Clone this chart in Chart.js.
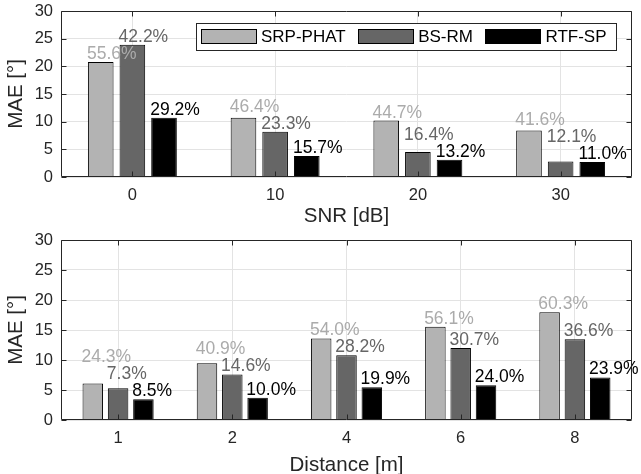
<!DOCTYPE html>
<html>
<head>
<meta charset="utf-8">
<script src="https://cdn.jsdelivr.net/npm/chart.js@4.4.1/dist/chart.umd.min.js"></script>
<style>
  html, body { margin: 0; background: #fff; overflow: hidden; }
  canvas { display: block; }
</style>
</head>
<body>
<canvas id="snrChart" width="641" height="230"></canvas>
<canvas id="distChart" width="641" height="250"></canvas>
<script>
const methods = ['SRP-PHAT', 'BS-RM', 'RTF-SP'];
const barColors = ['#b3b3b3', '#666666', '#000000'];
const labelColors = ['#ababab', '#666666', '#000000'];

// top panel: MAE vs SNR
const snrLabels = ['0', '10', '20', '30'];
const snrSrp = [20.8, 10.7, 10.2, 8.4];
const snrBs = [23.9, 8.2, 4.5, 2.8];
const snrRtf = [10.7, 3.8, 3.1, 2.7];
const snrSrpPct = [55.6, 46.4, 44.7, 41.6];
const snrBsPct = [42.2, 23.3, 16.4, 12.1];
const snrRtfPct = [29.2, 15.7, 13.2, 11.0];

// bottom panel: MAE vs distance
const distLabels = ['1', '2', '4', '6', '8'];
const distSrp = [6.1, 9.45, 13.6, 15.55, 17.95];
const distBs = [5.3, 7.6, 10.8, 12.0, 13.45];
const distRtf = [3.45, 3.7, 5.45, 5.8, 7.1];
const distSrpPct = [24.3, 40.9, 54.0, 56.1, 60.3];
const distBsPct = [7.3, 14.6, 28.2, 30.7, 36.6];
const distRtfPct = [8.5, 10.0, 19.9, 24.0, 23.9];

const yTicks = [0, 5, 10, 15, 20, 25, 30];

const FAMILY = '"Liberation Sans", Arial, sans-serif';
const AXIS = '#262626';

// percentage text above each bar, pushed up when it would overlap the label to its right
const pctLabels = {
  id: 'pctLabels',
  afterDatasetsDraw(chart, args, opts) {
    const ctx = chart.ctx;
    ctx.save();
    ctx.font = '17.5px ' + FAMILY;
    ctx.textAlign = 'left';
    ctx.textBaseline = 'alphabetic';
    for (let i = 0; i < chart.data.labels.length; i++) {
      let above = null;
      for (let d = chart.data.datasets.length - 1; d >= 0; d--) {
        const bar = chart.getDatasetMeta(d).data[i];
        let y = bar.y - 3;
        if (above !== null && y > above - 17 && y - 17 < above) y = above - 17;
        above = y;
        ctx.fillStyle = labelColors[d];
        ctx.fillText(opts.pct[d][i].toFixed(1) + '%', bar.x - bar.width / 2 - 1, y);
      }
    }
    ctx.restore();
  }
};

// matlab style box with inward ticks
const axesBox = {
  id: 'axesBox',
  afterDatasetsDraw(chart) {
    const ctx = chart.ctx;
    const a = chart.chartArea;
    const x = chart.scales.x, y = chart.scales.y;
    const L = Math.round(a.left) + 0.5, R = Math.round(a.right) - 0.5;
    const T = Math.round(a.top) + 0.5, B = Math.round(a.bottom) - 0.5;
    ctx.save();
    ctx.strokeStyle = AXIS;
    ctx.lineWidth = 1;
    ctx.beginPath();
    x.ticks.forEach((t, i) => {
      const px = Math.round(x.getPixelForTick(i)) + 0.5;
      ctx.moveTo(px, B); ctx.lineTo(px, B - 5);
      ctx.moveTo(px, T); ctx.lineTo(px, T + 5);
    });
    y.ticks.forEach((t, i) => {
      const py = Math.round(y.getPixelForTick(i)) + 0.5;
      ctx.moveTo(L, py); ctx.lineTo(L + 5, py);
      ctx.moveTo(R, py); ctx.lineTo(R - 5, py);
    });
    ctx.rect(L, T, R - L, B - T);
    ctx.stroke();
    ctx.restore();
  }
};

// legend drawn inside the plot, top right, with a frame
const boxLegend = {
  id: 'boxLegend',
  afterDraw(chart) {
    const ctx = chart.ctx;
    const a = chart.chartArea;
    const sw = 56, sh = 15, pad = 5, gap = 4, sep = 12.5, padR = 9, h = 27;
    ctx.save();
    ctx.font = '17px ' + FAMILY;
    const items = chart.data.datasets.map(ds => ({
      label: ds.label, color: ds.backgroundColor, w: ctx.measureText(ds.label).width
    }));
    let total = pad + padR + sep * (items.length - 1);
    items.forEach(it => { total += sw + gap + it.w; });
    const right = Math.round(a.right) - 16, top = Math.round(a.top) + 12;
    const left = Math.round(right - total);
    ctx.fillStyle = '#fff';
    ctx.fillRect(left, top, right - left, h);
    ctx.strokeStyle = AXIS;
    ctx.lineWidth = 1;
    ctx.strokeRect(left + 0.5, top + 0.5, right - left, h);
    let x = left + pad;
    const cy = top + h / 2;
    items.forEach(it => {
      const bx = Math.round(x);
      ctx.fillStyle = it.color;
      ctx.fillRect(bx, Math.round(cy - sh / 2), sw, sh);
      ctx.strokeStyle = '#000';
      ctx.strokeRect(bx + 0.5, Math.round(cy - sh / 2) + 0.5, sw - 1, sh - 1);
      ctx.fillStyle = '#000';
      ctx.textBaseline = 'middle';
      ctx.fillText(it.label, x + sw + gap, cy + 1);
      x += sw + gap + it.w + sep;
    });
    ctx.restore();
  }
};

function makeChart(id, labels, series, pct, xTitle, padTop, xHeight, titlePad, extra) {
  const datasets = series.map((vals, d) => ({
    label: methods[d],
    data: vals,
    backgroundColor: barColors[d],
    borderColor: '#000',
    borderWidth: 1,
    categoryPercentage: 0.665,
    barPercentage: 0.81
  }));
  return new Chart(document.getElementById(id), {
    type: 'bar',
    data: { labels: labels, datasets: datasets },
    options: {
      responsive: false,
      animation: false,
      events: [],
      layout: { padding: { top: padTop, right: 9, left: 0, bottom: 0 } },
      scales: {
        x: {
          grid: { color: '#e3e3e3', offset: false, drawTicks: false },
          border: { display: false },
          ticks: { color: AXIS, font: { family: FAMILY, size: 16.5 }, padding: 9 },
          title: { display: true, text: xTitle, color: AXIS, font: { family: FAMILY, size: 20.5 }, padding: { top: 0, bottom: titlePad } },
          afterFit(scale) { scale.height = xHeight; }
        },
        y: {
          min: 0,
          max: 30,
          afterBuildTicks(scale) { scale.ticks = yTicks.map(v => ({ value: v })); },
          grid: { color: '#e3e3e3', drawTicks: false },
          border: { display: false },
          ticks: { color: AXIS, font: { family: FAMILY, size: 16.5 }, padding: 8 },
          title: { display: true, text: 'MAE [°]', color: AXIS, font: { family: FAMILY, size: 20.5 }, padding: { top: 4, bottom: 0 } },
          afterFit(scale) {
            scale.width = 61;
            scale.paddingTop = 0;
            scale.paddingBottom = 0;
          }
        }
      },
      plugins: {
        legend: { display: false },
        tooltip: { enabled: false },
        pctLabels: { pct: pct }
      }
    },
    plugins: [pctLabels, axesBox].concat(extra)
  });
}

makeChart('snrChart', snrLabels, [snrSrp, snrBs, snrRtf], [snrSrpPct, snrBsPct, snrRtfPct],
  'SNR [dB]', 11, 53, 1, [boxLegend]);
makeChart('distChart', distLabels, [distSrp, distBs, distRtf], [distSrpPct, distBsPct, distRtfPct],
  'Distance [m]', 10, 60, 2, []);
</script>
</body>
</html>
